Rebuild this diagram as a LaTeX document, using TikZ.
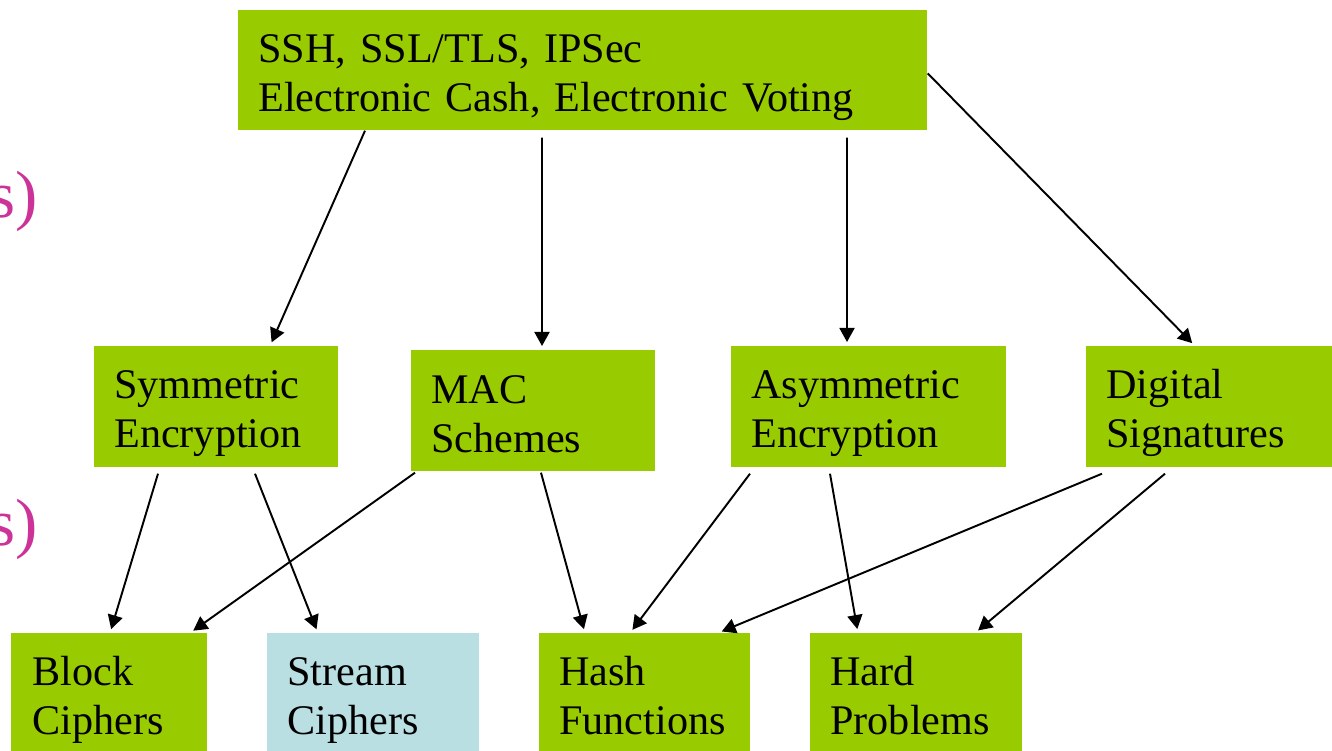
\documentclass[tikz,border=0pt]{standalone}
\usepackage{fontspec}
\setmainfont{Liberation Serif}
\usepackage{tikz}
\usetikzlibrary{arrows.meta}

\definecolor{leafgreen}{HTML}{99CC00}
\definecolor{paleblue}{HTML}{B9DFE3}
\definecolor{slidepink}{HTML}{CC3399}

\begin{document}
\begin{tikzpicture}[
  font=\fontsize{24}{28}\selectfont,
  topic/.style={fill=leafgreen,anchor=north west,align=left,inner xsep=0.4cm,
                inner ysep=0pt,text height=1.04cm,text depth=1.38cm},
  sidetopic/.style={topic,fill=paleblue},
  arr/.style={-{Triangle[length=0.28cm,width=0.3cm]},line width=1.1pt,shorten >=0.08cm},
  hint/.style={text=slidepink,font=\fontsize{38}{44}\selectfont,inner sep=0pt,anchor=base east},
]
  \useasboundingbox (0,0) rectangle (26.64,-15.02);

  % cut-off text on the left
  \node[hint] (hinta) at (0.76,-4.36) {s)};
  \node[hint] (hintb) at (0.76,-10.92) {s)};

  % applications
  \node[topic,text depth=1.36cm,text width=12.98cm] (apps) at (4.76,-0.2)
    {SSH, SSL/TLS, IPSec\\Electronic Cash, Electronic Voting};

  % primitives
  \node[topic,text width=4.08cm] (sym)  at (1.88,-6.92)  {Symmetric\\Encryption};
  \node[topic,text width=4.08cm,text height=1.06cm,text depth=1.36cm] (mac) at (8.22,-7.0) {MAC\\Schemes};
  \node[topic,text width=4.70cm] (asym) at (14.62,-6.92) {Asymmetric\\Encryption};
  \node[topic,text width=4.12cm] (dig)  at (21.72,-6.92) {Digital\\Signatures};

  % building blocks
  \node[topic,inner xsep=0.42cm,text width=3.08cm] (block) at (0.22,-12.66) {Block\\Ciphers};
  \node[sidetopic,text width=3.44cm] (stream) at (5.34,-12.66) {Stream\\Ciphers};
  \node[topic,text width=3.42cm] (hash) at (10.78,-12.66) {Hash\\Functions};
  \node[topic,text width=3.44cm] (hard) at (16.2,-12.66) {Hard\\Problems};

  \draw[arr] ([xshift=2.54cm]apps.south west) -- ([xshift=3.52cm]sym.north west);
  \draw[arr] ([xshift=6.08cm,yshift=-0.14cm]apps.south west) -- ([xshift=2.62cm]mac.north west);
  \draw[arr] ([xshift=12.18cm,yshift=-0.14cm]apps.south west) -- ([xshift=2.32cm]asym.north west);
  \draw[arr] ([yshift=-0.06cm]apps.east) -- ([xshift=2.18cm]dig.north west);

  \draw[arr] ([xshift=1.28cm,yshift=-0.12cm]sym.south west) -- ([xshift=1.98cm]block.north west);
  \draw[arr] ([xshift=3.22cm,yshift=-0.12cm]sym.south west) -- ([xshift=1.02cm]stream.north west);
  \draw[arr] ([xshift=0.08cm,yshift=-0.02cm]mac.south west) -- ([xshift=3.58cm]block.north west);
  \draw[arr] ([xshift=2.60cm,yshift=-0.02cm]mac.south west) -- ([xshift=0.92cm]hash.north west);
  \draw[arr] ([xshift=0.38cm,yshift=-0.12cm]asym.south west) -- ([xshift=1.82cm]hash.north west);
  \draw[arr] ([xshift=1.98cm,yshift=-0.12cm]asym.south west) -- ([xshift=0.96cm]hard.north west);
  \draw[arr] ([xshift=0.32cm,yshift=-0.12cm]dig.south west) -- ([xshift=3.58cm]hash.north west);
  \draw[arr] ([xshift=1.58cm,yshift=-0.12cm]dig.south west) -- ([xshift=3.30cm]hard.north west);
\end{tikzpicture}
\end{document}
